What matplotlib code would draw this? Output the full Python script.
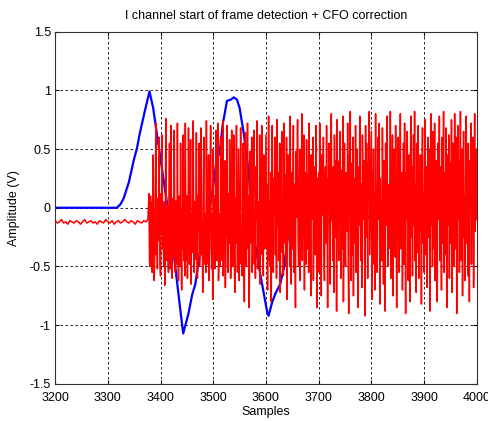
import numpy as np
import matplotlib
matplotlib.use('Agg')
import matplotlib.pyplot as plt

# blue trace (sample index, amplitude)
blue_x = [3200, 3317, 3324, 3330, 3340, 3350, 3355, 3360, 3370, 3379, 3386, 3393, 3405, 3413,
          3422, 3431, 3437, 3443, 3453, 3460, 3466, 3475, 3488, 3498, 3507, 3512, 3518, 3526,
          3533, 3539, 3545, 3550, 3558, 3567, 3572, 3577, 3589, 3602, 3605, 3612, 3618,
          3627, 3634, 3643, 3653, 3662, 3675, 3684, 3697, 3707, 3716, 3725, 3734, 3745,
          3754, 3767, 3776, 3782, 3792, 3801, 3811, 3820, 3830, 3839, 3849, 3858, 3868,
          3880, 3890, 3900, 3912, 3925, 3938, 3947, 3957, 3966, 3976, 3985, 3995, 4000]
blue_y = [0.0, 0.0, 0.03, 0.08, 0.22, 0.42, 0.50, 0.62, 0.82, 0.99, 0.85, 0.63, 0.26, 0.02,
          -0.28, -0.62, -0.85, -1.07, -0.90, -0.74, -0.65, -0.37, -0.11, 0.12, 0.43, 0.46, 0.71, 0.91,
          0.92, 0.94, 0.92, 0.85, 0.63, 0.31, 0.02, -0.25, -0.56, -0.88, -0.92, -0.80, -0.73,
          -0.65, -0.51, -0.20, -0.03, 0.06, 0.09, 0.045, 0.04, -0.04, -0.125, -0.10, 0.045, 0.075,
          0.06, 0.02, 0.03, -0.04, -0.07, -0.11, -0.04, 0.06, 0.05, 0.02, -0.02, -0.05, -0.04,
          -0.05, 0.0, 0.06, 0.09, 0.065, 0.045, -0.055, -0.11, -0.09, 0.0, 0.06, 0.04, 0.03]

# red trace before the frame starts (every 4 samples from 3200)
red_pre = [-0.11, -0.13, -0.12, -0.10, -0.13, -0.12, -0.14, -0.11, -0.12, -0.13,
           -0.11, -0.12, -0.14, -0.12, -0.10, -0.13, -0.12, -0.11, -0.13, -0.12,
           -0.14, -0.11, -0.12, -0.13, -0.10, -0.12, -0.13, -0.11, -0.14, -0.12,
           -0.11, -0.13, -0.12, -0.10, -0.12, -0.13, -0.11, -0.12, -0.14, -0.11,
           -0.12, -0.13, -0.11, -0.12, -0.10]

# red trace after the frame start (one value per sample from 3378)
red_post = [
    0.12, -0.45, -0.50, 0.10, -0.30, 0.05, -0.55, -0.20, 0.45, -0.10, -0.62, -0.35, 0.02, 0.72, -0.40, -0.15, -0.52, 0.08, -0.28, 0.60,
    -0.05, -0.48, -0.58, 0.12, -0.22, 0.62, -0.35, -0.10, -0.50, 0.05, -0.66, -0.25, 0.76, -0.18, -0.45, 0.02, -0.38, -0.55, 0.10, 0.55,
    -0.52, -0.20, 0.70, -0.30, -0.60, -0.05, 0.08, -0.42, 0.66, -0.12, -0.55, -0.30, 0.06, -0.48, 0.72, -0.28, -0.62, -0.15, 0.10, -0.50,
    0.55, -0.25, -0.70, 0.00, -0.35, 0.62, -0.45, -0.10, -0.58, 0.72, -0.22, -0.45, 0.10, -0.60, -0.30, 0.68, -0.05, -0.48, -0.35, 0.58,
    -0.65, -0.05, -0.38, 0.12, 0.74, -0.25, -0.55, 0.05, -0.44, -0.15, 0.64, -0.35, -0.60, 0.10, -0.20, 0.55, -0.50, -0.30, 0.02, 0.68,
    -0.40, -0.12, -0.72, 0.05, 0.60, -0.30, -0.48, -0.05, -0.55, 0.74, -0.20, -0.10, -0.48, 0.45, -0.62, -0.15, 0.08, 0.70, -0.35, -0.52,
    -0.05, -0.78, 0.50, -0.25, 0.10, -0.52, -0.40, 0.66, -0.15, -0.45, 0.02, 0.72, -0.62, -0.30, -0.05, -0.50, 0.60, -0.22, 0.12, -0.45,
    0.74, -0.58, -0.10, -0.35, 0.40, -0.68, 0.05, -0.25, 0.70, -0.48, -0.55, 0.12, -0.30, 0.58, -0.12, -0.60, -0.40, 0.66, 0.00, -0.50,
    -0.20, 0.62, -0.45, -0.72, 0.08, -0.30, 0.70, -0.15, -0.55, -0.05, 0.50, -0.62, -0.35, 0.10, 0.68, -0.48, -0.20, -0.58, 0.05, 0.55,
    -0.40, -0.80, 0.02, 0.64, -0.25, -0.50, -0.10, 0.72, -0.35, 0.10, -0.85, -0.45, 0.48, -0.05, -0.30, 0.60, -0.55, -0.15, 0.12, 0.66,
    -0.48, -0.20, -0.60, 0.35, -0.10, 0.74, -0.52, -0.30, 0.05, -0.42, 0.62, -0.65, 0.15, -0.25, 0.70, -0.40, -0.05, -0.58, 0.45, -0.20,
    -0.35, 0.10,
    0.62, -0.35, 0.20, -0.70, -0.10, 0.78, -0.45, 0.05, -0.50, 0.30, -0.80, 0.15, 0.70, -0.25, -0.55, 0.25, -0.05, 0.60, -0.40, 0.10,
    -0.60, 0.75, -0.15, 0.30, -0.45, 0.02, 0.55, -0.72, -0.20, 0.20, 0.65, -0.38, -0.05, -0.58, 0.72, 0.10, -0.30, 0.28, -0.50, 0.60,
    -0.78, 0.05, 0.45, -0.25, 0.15, -0.50, 0.78, -0.10, -0.65, 0.30, -0.35, 0.02, 0.70, -0.55, 0.20, -0.20, -0.85, 0.48, -0.08, 0.25,
    0.75, -0.30, -0.50, 0.10, 0.50, -0.62, 0.18, -0.12, 0.80, -0.45, 0.05, -0.25, 0.62, -0.70, 0.30, -0.05, -0.48, 0.58, 0.12, -0.35,
    0.28, -0.55, 0.72, -0.20, 0.08, -0.75, 0.45, -0.10, 0.22, 0.60, -0.62, -0.02, 0.35, -0.40, 0.15, 0.70, -0.30, -0.85, 0.25, -0.15,
    0.30, -0.55, 0.72, -0.20, 0.10, -0.75, 0.45, -0.05, 0.25, 0.60, -0.40, -0.62, 0.15, 0.35, -0.30, 0.70, -0.10, -0.85, 0.25, 0.05,
    0.55, -0.30, -0.65, 0.38, 0.80, -0.10, 0.20, -0.45, 0.35, -0.72, 0.62, -0.25, 0.10, 0.40, -0.88, 0.75, -0.15, 0.05, -0.45, 0.40,
    -0.15, 0.65, -0.60, 0.20, 0.32, -0.35, 0.78, -0.80, 0.05, 0.55, -0.25, -0.50, 0.30, 0.12, -0.20, 0.72, -0.40, -0.90, 0.45, -0.05,
    0.82, -0.62, 0.15, 0.38, -0.40, 0.60, -0.75, 0.25, -0.10, -0.30, 0.70, -0.55, 0.05, 0.50, -0.20, -0.85, 0.35, -0.15, 0.78, 0.08,
    -0.45, 0.20, -0.68, 0.62, 0.30, -0.10, 0.40, -0.35, -0.92, 0.70, -0.25, 0.55, 0.02, -0.60, 0.38, 0.10, 0.82, -0.40, -0.05, 0.25,
    0.65, -0.78, 0.30, -0.20, 0.50, -0.48, 0.12, -0.70, 0.80, -0.35, 0.15, -0.55, 0.36, 0.60, -0.10, 0.72, -0.82, 0.25, -0.28, 0.05,
    -0.45, 0.68, 0.05, -0.65, 0.40, 0.20, -0.88, 0.55, -0.15, 0.30, 0.78, -0.50, 0.10, -0.35, 0.20, -0.30, 0.82, -0.60, 0.35, -0.05,
    0.62, -0.75, 0.10, 0.50, -0.25, -0.42, 0.70, 0.15, -0.85, 0.25, -0.20, 0.60, -0.55, 0.40, 0.05, 0.80, -0.35, -0.10, 0.30, -0.70,
    0.15, 0.55, -0.48, 0.72, -0.15, -0.90, 0.30, -0.10, 0.65, 0.22, -0.62, 0.05, 0.45, -0.80, 0.38, 0.78, -0.25, 0.35, -0.58, 0.10,
    0.62, -0.15, 0.82, -0.45, 0.20, -0.72, 0.55, 0.00, -0.38, 0.70, -0.60, 0.30, -0.20, 0.45, -0.10, -0.82, 0.25, 0.68, -0.30, 0.12,
    -0.55, 0.40, 0.75, -0.40, -0.05, 0.35, -0.68, 0.60, 0.10, -0.25, 0.50, -0.88, 0.30, 0.80, -0.15, 0.05, -0.50, 0.65, 0.20, -0.35,
    0.72, -0.62, 0.15, 0.40, -0.20, -0.80, 0.55, 0.25, -0.10, 0.78, -0.45, 0.05, 0.35, -0.70, 0.60, -0.30, 0.18, 0.82, -0.55, -0.05,
    0.30, -0.40, 0.68, -0.85, 0.22, 0.45, -0.15, 0.62, -0.60, 0.10, 0.38, -0.30, 0.75, -0.72, 0.05, 0.55, -0.20, -0.50, 0.80, 0.15,
    -0.35, 0.60, -0.90, 0.28, 0.70, -0.10, 0.40, -0.55, 0.15, 0.82, -0.45, -0.05, 0.50, -0.75, 0.30, 0.65, -0.25, 0.10, -0.62, 0.45,
    0.78, -0.30, 0.20, -0.58, 0.55, -0.05, -0.80, 0.40, 0.12, 0.72, -0.48, 0.25, -0.15, 0.60, -0.68, 0.35, 0.80, -0.20, 0.05, 0.50,
    -0.10]

red_x = np.concatenate([3200 + 4 * np.arange(len(red_pre)),
                        3378 + np.arange(len(red_post))])
red_y = np.array(red_pre + red_post)

plt.rcParams['font.family'] = ['Liberation Sans', 'DejaVu Sans']

fig = plt.figure(figsize=(4.88, 4.21), dpi=100)
ax = fig.add_axes([0.113, 0.088, 0.864, 0.837])

ax.plot(blue_x, blue_y, color='#0000ff', linewidth=1.6, zorder=2)
ax.plot(red_x, red_y, color='#ff0000', linewidth=1.1, zorder=3)

ax.set_xlim(3200, 4000)
ax.set_ylim(-1.5, 1.5)
ax.set_xticks(np.arange(3200, 4001, 100))
ax.set_yticks([-1.5, -1, -0.5, 0, 0.5, 1, 1.5])
ax.set_yticklabels(['-1.5', '-1', '-0.5', '0', '0.5', '1', '1.5'])
ax.grid(True, color='black', linestyle=(0, (3, 3)), linewidth=0.6, zorder=1)
ax.set_axisbelow(True)
ax.tick_params(direction='in', top=True, right=True, labelsize=9, length=3, pad=3)
ax.tick_params(axis='x', pad=6)
for sp in ax.spines.values():
    sp.set_linewidth(0.8)
    sp.set_color('#333333')

ax.set_title('I channel start of frame detection + CFO correction', fontsize=9, pad=9)
ax.set_xlabel('Samples', fontsize=9, labelpad=1)
ax.set_ylabel('Amplitude (V)', fontsize=9, labelpad=7)

fig.savefig('out.png', dpi=100)
